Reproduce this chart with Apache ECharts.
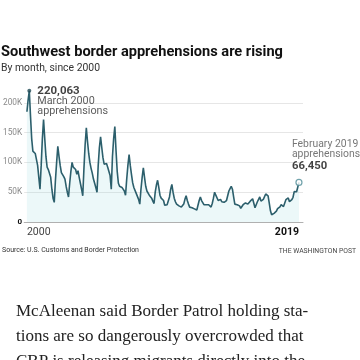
<!DOCTYPE html>
<html><head><meta charset="utf-8">
<script src="https://cdn.jsdelivr.net/npm/echarts@6/dist/echarts.min.js"></script>
<style>html,body{margin:0;padding:0;background:#fff}#c{width:360px;height:360px}</style>
</head><body><div id="c"></div>
<script>
// Monthly Southwest border apprehensions, Jan 2000 - Feb 2019
const y2000 = [185000, 205000, 220063, 178000, 140000, 119000, 117000, 115000, 112000, 95000, 75000, 55000];
const y2001 = [95000, 140000, 172000, 140000, 110000, 92000, 88000, 85000, 75000, 55000, 40000, 33000];
const y2002 = [70000, 100000, 127000, 110000, 95000, 83000, 80000, 76000, 72000, 60000, 50000, 42000];
const y2003 = [65000, 85000, 100000, 92000, 95000, 88000, 80000, 86000, 75000, 65000, 55000, 44000];
const y2004 = [90000, 130000, 158000, 135000, 115000, 100000, 90000, 82000, 72000, 65000, 58000, 50000];
const y2005 = [95000, 125000, 143000, 125000, 108000, 97000, 95000, 98000, 92000, 90000, 78000, 55000];
const y2006 = [110000, 140000, 160000, 120000, 85000, 65000, 60000, 62000, 58000, 60000, 52000, 45000];
const y2007 = [72000, 95000, 113000, 95000, 80000, 66000, 58000, 55000, 48000, 45000, 38000, 30000];
const y2008 = [55000, 75000, 91000, 75000, 60000, 52000, 50000, 45000, 42000, 40000, 35000, 31000];
const y2009 = [50000, 62000, 70000, 58000, 45000, 40000, 42000, 36000, 28000, 31000, 29000, 27000];
const y2010 = [42000, 55000, 63000, 50000, 40000, 34000, 30000, 28000, 27000, 27000, 25000, 24000];
const y2011 = [30000, 38000, 44000, 36000, 30000, 25000, 23000, 24000, 22000, 22000, 21000, 20000];
const y2012 = [28000, 36000, 42000, 36000, 34000, 29000, 28000, 29000, 27000, 29000, 27000, 25000];
const y2013 = [31000, 40000, 50000, 45000, 43000, 36000, 36000, 38000, 34000, 35000, 33000, 32000];
const y2014 = [36000, 44000, 52000, 56000, 60000, 55000, 42000, 30000, 28000, 29000, 27000, 27000];
const y2015 = [23000, 24000, 29000, 30000, 32000, 29000, 30000, 33000, 35000, 33000, 39000, 42000];
const y2016 = [24000, 26000, 34000, 38000, 42000, 35000, 34000, 38000, 40000, 47000, 49000, 44000];
const y2017 = [31575, 18762, 12193, 11127, 14519, 16087, 18187, 22293, 22591, 25487, 29085, 28995];
const y2018 = [25975, 26666, 37390, 38278, 40339, 34114, 31303, 37524, 41486, 51001, 51856, 50749];
const y2019 = [47986, 66450];

const apprehensions = [].concat(y2000, y2001, y2002, y2003, y2004, y2005, y2006, y2007, y2008, y2009,
  y2010, y2011, y2012, y2013, y2014, y2015, y2016, y2017, y2018, y2019);
const yTicks = [0, 50000, 100000, 150000, 200000];
const xLabels = ['2000', '2019'];
const peakText = ['220,063', 'March 2000', 'apprehensions'];
const lastText = ['February 2019', 'apprehensions', '66,450'];

const points = apprehensions.map((v, i) => [i, v]);
const lastIdx = apprehensions.length - 1;
let peakIdx = 0;
apprehensions.forEach((v, i) => { if (v > apprehensions[peakIdx]) peakIdx = i; });

const chart = echarts.init(document.getElementById('c'), null, {renderer: 'canvas'});
const grey = '#8a8a8a';
chart.setOption({
  animation: false,
  backgroundColor: '#fff',
  title: {
    text: 'Southwest border apprehensions are rising',
    subtext: 'By month, since 2000',
    left: 0, top: 45, itemGap: 3,
    padding: [0, 0, 0, 1],
    textStyle: {fontFamily: 'Roboto', fontWeight: 'bold', fontSize: 14.6, color: '#111'},
    subtextStyle: {fontFamily: 'Roboto', fontSize: 10.4, color: '#333'}
  },
  grid: {left: 24, right: 57, top: 73, bottom: 138},
  xAxis: [{
    type: 'value', min: -2.3, max: 232.4,
    axisLine: {show: true, lineStyle: {color: '#b0b0b0', width: 1}},
    axisTick: {show: false}, splitLine: {show: false},
    axisLabel: {customValues: [0], formatter: () => xLabels[0], align: 'left', margin: 5,
      fontFamily: 'Roboto', fontSize: 10.5, color: '#444'}
  }, {
    type: 'value', min: -2.3, max: 232.4, position: 'bottom',
    axisLine: {show: false}, axisTick: {show: false}, splitLine: {show: false},
    axisLabel: {customValues: [lastIdx], formatter: () => xLabels[1], align: 'right', margin: 5,
      fontFamily: 'Roboto', fontSize: 10.5, fontWeight: 'bold', color: '#111'}
  }],
  yAxis: {
    type: 'value', min: 0, max: 250000, interval: 50000,
    axisLine: {show: false}, axisTick: {show: false},
    splitLine: {lineStyle: {color: ['#e2e2e2', '#e6e6e6', '#e6e6e6', '#e6e6e6', '#e6e6e6', 'rgba(0,0,0,0)']}},
    axisLabel: {
      margin: 2, fontFamily: 'Roboto', fontSize: 8.3, color: grey,
      formatter: v => yTicks.indexOf(v) < 0 ? '' : (v === 0 ? '{z|0}' : (v / 1000) + 'K'),
      rich: {z: {fontWeight: 'bold', color: '#111', fontSize: 8}}
    }
  },
  series: [{
    type: 'line', xAxisIndex: 0, data: points, showSymbol: false, symbol: 'none',
    lineStyle: {color: '#2c5f6c', width: 1.6},
    areaStyle: {color: 'rgba(150,215,222,0.25)'},
    z: 3
  }, {
    type: 'scatter', xAxisIndex: 0, data: [[peakIdx, apprehensions[peakIdx]]],
    symbol: 'circle', symbolSize: 4, itemStyle: {color: '#1f4a55'}, z: 4,
    label: {show: true, position: 'right', distance: 6, offset: [0, 10],
      formatter: '{b|' + peakText[0] + '}\n{n|' + peakText[1] + '}\n{n|' + peakText[2] + '}',
      rich: {b: {fontFamily: 'Roboto', fontWeight: 'bold', fontSize: 11.5, color: '#111', lineHeight: 11},
             n: {fontFamily: 'Roboto', fontSize: 10.8, color: '#333', lineHeight: 9.5}}}
  }, {
    type: 'scatter', xAxisIndex: 0, data: [[lastIdx, apprehensions[lastIdx]]],
    symbol: 'circle', symbolSize: 6, itemStyle: {color: '#fff', borderColor: '#4f8c97', borderWidth: 1.2}, z: 4,
    label: {show: true, position: 'top', distance: 5, align: 'left', offset: [-7, 0],
      formatter: '{n|' + lastText[0] + '}\n{n|' + lastText[1] + '}\n{b|' + lastText[2] + '}',
      rich: {b: {fontFamily: 'Roboto', fontWeight: 'bold', fontSize: 11.3, color: '#111', lineHeight: 15},
             n: {fontFamily: 'Roboto', fontSize: 10.4, color: '#555', lineHeight: 9.5}}}
  }],
  graphic: [
    {type: 'text', left: 2, top: 247, style: {text: 'Source: U.S. Customs and Border Protection',
      font: '7px Roboto', fill: '#333'}},
    {type: 'text', right: 4, top: 248, style: {text: 'THE WASHINGTON POST',
      font: '6.8px Roboto', fill: '#444'}},
    {type: 'text', left: 16, top: 299, style: {
      text: 'McAleenan said Border Patrol holding sta-\ntions are so dangerously overcrowded that\nCBP is releasing migrants directly into the',
      font: '17px "Liberation Serif"', fill: '#222', lineHeight: 25}}
  ]
});
</script></body></html>
